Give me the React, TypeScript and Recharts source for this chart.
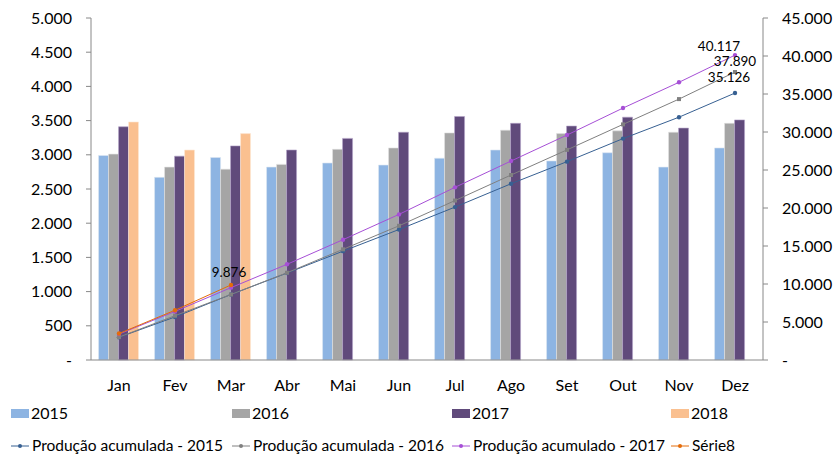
import {
  ComposedChart,
  Bar,
  Line,
  XAxis,
  YAxis,
  LabelList,
} from "recharts";

document.body.style.margin = "0";

const months = ["Jan", "Fev", "Mar", "Abr", "Mai", "Jun", "Jul", "Ago", "Set", "Out", "Nov", "Dez"];

const prod2015 = [2990, 2670, 2960, 2820, 2880, 2850, 2950, 3070, 2910, 3030, 2820, 3100];
const prod2016 = [3010, 2820, 2790, 2860, 3080, 3100, 3320, 3360, 3310, 3350, 3330, 3460];
const prod2017 = [3410, 2980, 3130, 3070, 3240, 3330, 3560, 3460, 3420, 3550, 3390, 3510];
const prod2018 = [3480, 3070, 3310, null, null, null, null, null, null, null, null, null];

const acum2015 = [2990, 5660, 8620, 11440, 14320, 17170, 20120, 23190, 26100, 29130, 31950, 35126];
const acum2016 = [3010, 5830, 8620, 11480, 14560, 17660, 20980, 24340, 27650, 31000, 34330, 37890];
const acum2017 = [3410, 6390, 9520, 12590, 15830, 19160, 22720, 26180, 29600, 33150, 36540, 40117];
const acum2018 = [3480, 6550, 9876, null, null, null, null, null, null, null, null, null];

const leftTicks = [0, 500, 1000, 1500, 2000, 2500, 3000, 3500, 4000, 4500, 5000];
const rightTicks = [0, 5000, 10000, 15000, 20000, 25000, 30000, 35000, 40000, 45000];

const C = {
  b2015: "#8db4e2",
  b2016: "#a5a5a5",
  b2017: "#604a7b",
  b2018: "#fac090",
  l2015: "#376092",
  l2016: "#808080",
  l2017: "#a64fd6",
  l2018: "#e46c0a",
};

const FONT = "Lato, 'Liberation Sans', sans-serif";

const data = months.map((m, i) => ({
  month: m,
  p2015: prod2015[i],
  p2016: prod2016[i],
  p2017: prod2017[i],
  p2018: prod2018[i],
  a2015: acum2015[i],
  a2016: acum2016[i],
  a2017: acum2017[i],
  a2018: acum2018[i],
}));

const fmt = (v: number) =>
  v === 0 ? "-" : String(v).replace(/\B(?=(\d{3})+(?!\d))/g, ".");

function makeDot(color: string, shape: "circle" | "square") {
  return (props: any) => {
    const { cx, cy, index } = props;
    if (cx == null || cy == null) return <g key={index} />;
    if (shape === "square")
      return <rect key={index} x={cx - 2} y={cy - 2} width={4} height={4} fill={color} />;
    return <circle key={index} cx={cx} cy={cy} r={2.2} fill={color} />;
  };
}

function makeLabel(onIndex: number, dx: number, dy: number) {
  return (props: any) => {
    const { x, y, value, index } = props;
    if (index !== onIndex || value == null) return null;
    return (
      <text x={x + dx} y={y + dy} textAnchor="middle" fontSize={13.5} fontFamily={FONT} fill="#000">
        {fmt(value)}
      </text>
    );
  };
}

const barLegend = [
  { label: "2015", color: C.b2015 },
  { label: "2016", color: C.b2016 },
  { label: "2017", color: C.b2017 },
  { label: "2018", color: C.b2018 },
];
const lineLegend = [
  { label: "Produção acumulada - 2015", color: C.l2015 },
  { label: "Produção acumulada - 2016", color: C.l2016 },
  { label: "Produção acumulado - 2017", color: C.l2017 },
  { label: "Série8", color: C.l2018 },
];
const legendX = [11, 232, 452, 671];

export default function App() {
  return (
    <div style={{ position: "relative", width: 839, height: 454, background: "#fff", fontFamily: FONT, overflow: "hidden" }}>
      <ComposedChart
        width={839}
        height={400}
        data={data}
        margin={{ top: 18, right: 0, left: 0, bottom: 0 }}
        barCategoryGap="13.5%"
        barGap={0}
      >
        <XAxis
          dataKey="month"
          height={40}
          tickLine={false}
          axisLine={{ stroke: "#888" }}
          tick={{ fill: "#000", fontSize: 16, fontFamily: FONT }}
          tickMargin={14}
        />
        <YAxis
          yAxisId="left"
          width={91}
          domain={[0, 5000]}
          ticks={leftTicks}
          interval={0}
          tickFormatter={fmt}
          axisLine={{ stroke: "#888" }}
          tickLine={{ stroke: "#888" }}
          tickSize={5}
          tickMargin={14}
          tick={{ fill: "#000", fontSize: 16, fontFamily: FONT }}
        />
        <YAxis
          yAxisId="right"
          orientation="right"
          width={76}
          domain={[0, 45000]}
          ticks={rightTicks}
          interval={0}
          tickFormatter={fmt}
          axisLine={{ stroke: "#888" }}
          tickLine={{ stroke: "#888" }}
          tickSize={5}
          tickMargin={14}
          tick={{ fill: "#000", fontSize: 16, fontFamily: FONT, textAnchor: "start" }}
        />
        <Bar yAxisId="left" dataKey="p2015" fill={C.b2015} stroke="#dce6f2" strokeWidth={0.6} isAnimationActive={false} />
        <Bar yAxisId="left" dataKey="p2016" fill={C.b2016} stroke="#e0e0e0" strokeWidth={0.6} isAnimationActive={false} />
        <Bar yAxisId="left" dataKey="p2017" fill={C.b2017} stroke="#b3a2c7" strokeWidth={0.6} isAnimationActive={false} />
        <Bar yAxisId="left" dataKey="p2018" fill={C.b2018} stroke="#fde9d9" strokeWidth={0.6} isAnimationActive={false} />
        <Line yAxisId="right" dataKey="a2015" stroke={C.l2015} strokeWidth={1} dot={makeDot(C.l2015, "circle")} activeDot={false} isAnimationActive={false}>
          <LabelList dataKey="a2015" content={makeLabel(11, -6, -11)} />
        </Line>
        <Line yAxisId="right" dataKey="a2016" stroke={C.l2016} strokeWidth={1} dot={makeDot(C.l2016, "square")} activeDot={false} isAnimationActive={false}>
          <LabelList dataKey="a2016" content={makeLabel(11, 0, -6)} />
        </Line>
        <Line yAxisId="right" dataKey="a2017" stroke={C.l2017} strokeWidth={1} dot={makeDot(C.l2017, "circle")} activeDot={false} isAnimationActive={false}>
          <LabelList dataKey="a2017" content={makeLabel(11, -16, -4)} />
        </Line>
        <Line yAxisId="right" dataKey="a2018" stroke={C.l2018} strokeWidth={1} dot={makeDot(C.l2018, "circle")} activeDot={false} isAnimationActive={false} connectNulls={false}>
          <LabelList dataKey="a2018" content={makeLabel(2, -2, -8)} />
        </Line>
      </ComposedChart>
      {barLegend.map((l, i) => (
        <div key={l.label} style={{ position: "absolute", left: legendX[i], top: 405, height: 16, lineHeight: "16px", display: "flex", alignItems: "center", fontSize: 16, color: "#000" }}>
          <span style={{ display: "inline-block", width: 18, height: 9, background: l.color, marginRight: 2 }} />
          {l.label}
        </div>
      ))}
      {lineLegend.map((l, i) => (
        <div key={l.label} style={{ position: "absolute", left: legendX[i] - 1, top: 438, height: 15, lineHeight: "15px", display: "flex", alignItems: "center", fontSize: 15.5, color: "#000" }}>
          <svg width={20} height={10} style={{ marginRight: 2 }}>
            <line x1={1} y1={5} x2={19} y2={5} stroke={l.color} strokeWidth={1} />
            <circle cx={10} cy={5} r={2} fill={l.color} />
          </svg>
          {l.label}
        </div>
      ))}
    </div>
  );
}
